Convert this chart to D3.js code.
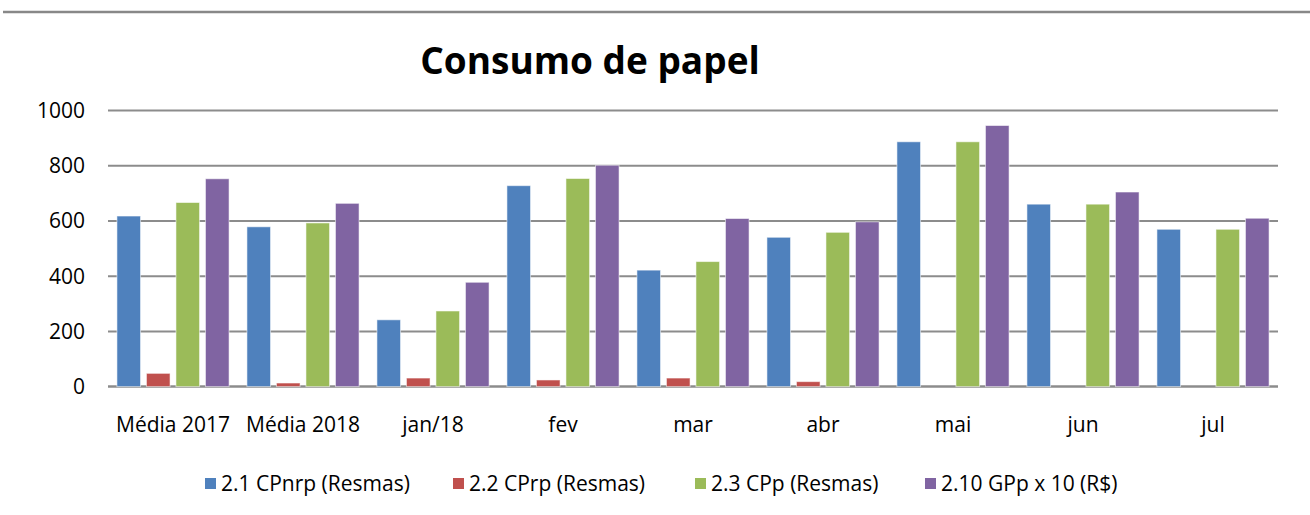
<!DOCTYPE html>
<html>
<head>
<meta charset="utf-8">
<script src="https://cdn.jsdelivr.net/npm/d3@7"></script>
<style>
  body { margin: 0; background: #fff; }
  text { font-family: "Open Sans", "Noto Sans", sans-serif; fill: #000; }
</style>
</head>
<body>
<div id="chart"></div>
<script>
const categories = ["Média 2017", "Média 2018", "jan/18", "fev", "mar", "abr", "mai", "jun", "jul"];
const seriesNames = ["2.1 CPnrp (Resmas)", "2.2 CPrp (Resmas)", "2.3 CPp (Resmas)", "2.10 GPp x 10 (R$)"];
const cpnrp = [618, 579, 242, 728, 422, 541, 887, 661, 570];
const cprp = [48, 13, 31, 24, 31, 18, 0, 0, 0];
const cpp = [667, 593, 274, 754, 453, 559, 887, 661, 570];
const gpp = [753, 664, 378, 802, 609, 597, 946, 705, 610];
const yTicks = [0, 200, 400, 600, 800, 1000];
const colors = ["#4F81BD", "#C0504D", "#9BBB59", "#8064A2"];

const width = 1310, height = 515;
const allSeries = [cpnrp, cprp, cpp, gpp];

let svg = d3.select("#chart")
    .append("svg")
    .attr("width", width)
    .attr("height", height);

// top rule
svg.append("line")
    .attr("x1", 3).attr("x2", width)
    .attr("y1", 12).attr("y2", 12)
    .attr("stroke", "#888")
    .attr("stroke-width", 2.5);

let x0 = d3.scaleBand()
    .domain(categories)
    .range([108, 1278])
    .paddingInner(0.092)
    .paddingOuter(0.046);

let x1 = d3.scaleBand()
    .domain(seriesNames)
    .range([0, x0.bandwidth()])
    .paddingInner(0.2)
    .paddingOuter(0.1);

let y = d3.scaleLinear()
    .domain([0, 1000])
    .range([386.6, 110.6]);

// gridlines
svg.append("g")
    .selectAll("line")
    .data(yTicks)
    .enter()
    .append("line")
    .attr("x1", 108).attr("x2", 1278)
    .attr("y1", d => y(d)).attr("y2", d => y(d))
    .attr("stroke", "#8c8c8c")
    .attr("stroke-width", d => d === 0 ? 2.5 : 2);

// y labels
svg.append("g")
    .selectAll("text")
    .data(yTicks)
    .enter()
    .append("text")
    .attr("x", 85)
    .attr("y", d => y(d))
    .attr("dy", "0.35em")
    .style("text-anchor", "end")
    .style("font-size", "21px")
    .text(d => d);

// bars
let groups = svg.append("g")
    .selectAll("g")
    .data(categories)
    .enter()
    .append("g")
    .attr("transform", d => `translate(${x0(d)},0)`);

groups.selectAll("rect")
    .data((c, i) => allSeries.map((s, k) => ({ name: seriesNames[k], value: s[i], k: k })))
    .enter()
    .filter(d => d.value > 0)
    .append("rect")
    .attr("x", d => x1(d.name))
    .attr("y", d => y(d.value))
    .attr("width", x1.bandwidth())
    .attr("height", d => y(0) - y(d.value))
    .attr("fill", d => colors[d.k])
    .attr("stroke", "rgba(255,255,255,0.55)")
    .attr("stroke-width", 1);

// category labels
svg.append("g")
    .selectAll("text")
    .data(categories)
    .enter()
    .append("text")
    .attr("x", d => x0(d) + x0.bandwidth() / 2)
    .attr("y", 432)
    .style("text-anchor", "middle")
    .style("font-size", "21px")
    .text(d => d);

// title
svg.append("text")
    .attr("x", 590)
    .attr("y", 74)
    .style("text-anchor", "middle")
    .style("font-size", "37px")
    .style("font-weight", "bold")
    .text("Consumo de papel");

// legend
const legendX = [205, 453, 695, 925];
let legend = svg.append("g")
    .selectAll("g")
    .data(seriesNames)
    .enter()
    .append("g")
    .attr("transform", (d, i) => `translate(${legendX[i]},0)`);

legend.append("rect")
    .attr("x", 0).attr("y", 478)
    .attr("width", 11).attr("height", 11)
    .attr("fill", (d, i) => colors[i]);

legend.append("text")
    .attr("x", 16)
    .attr("y", 491)
    .style("font-size", "21px")
    .text(d => d);
</script>
</body>
</html>
